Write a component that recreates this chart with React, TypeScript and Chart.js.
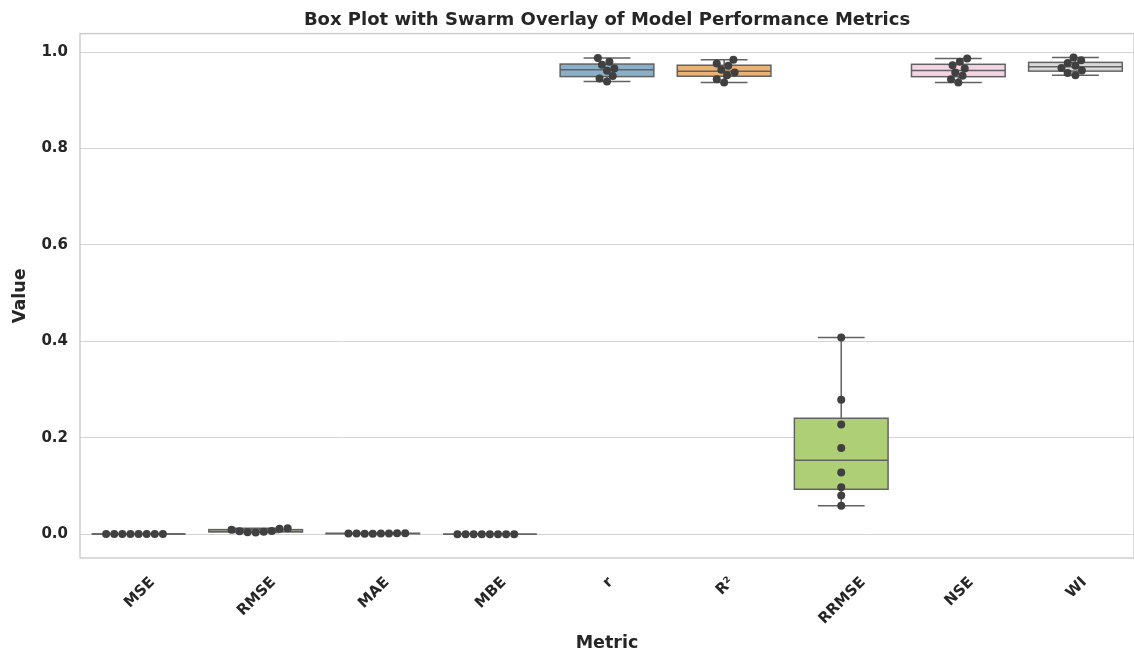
import React, { useEffect, useRef } from "react";
import { Chart, registerables } from "chart.js";

Chart.register(...registerables);

// ---------------- data ----------------
const categories = ["MSE", "RMSE", "MAE", "MBE", "r", "R²", "RRMSE", "NSE", "WI"];

const mseValues = [0.0001, 0.0001, 0.0001, 0.0001, 0.0001, 0.0001, 0.0001, 0.0001];
const rmseValues = [0.0089, 0.0062, 0.004, 0.0035, 0.0048, 0.0064, 0.011, 0.0124];
const maeValues = [0.00154, 0.00127, 0.00105, 0.001, 0.00113, 0.00129, 0.00175, 0.00189];
const mbeValues = [0.0, 0.0, 0.0, 0.0, 0.0, 0.0, 0.0, 0.0];
const rValues = [0.9392, 0.9454, 0.9505, 0.9612, 0.9662, 0.9737, 0.98, 0.9876];
const r2Values = [0.9371, 0.944, 0.952, 0.9579, 0.9633, 0.9716, 0.9765, 0.984];
const rrmseValues = [0.0588, 0.08, 0.0975, 0.128, 0.179, 0.2276, 0.279, 0.408];
const nseValues = [0.9371, 0.944, 0.9508, 0.9579, 0.9662, 0.973, 0.98, 0.9869];
const wiValues = [0.9523, 0.9565, 0.962, 0.967, 0.972, 0.9772, 0.9834, 0.989];

const seriesValues = [
  mseValues,
  rmseValues,
  maeValues,
  mbeValues,
  rValues,
  r2Values,
  rrmseValues,
  nseValues,
  wiValues,
];

const yTickValues = [0.0, 0.2, 0.4, 0.6, 0.8, 1.0];

// ---------------- styles ----------------
const boxColors = [
  "#98c9c1",
  "#f5f5c2",
  "#c3c0d6",
  "#ee8b80",
  "#8aafc9",
  "#eab375",
  "#afcf77",
  "#f6d3e5",
  "#d9d9d9",
];
const FONT = "'DejaVu Sans', 'Liberation Sans', sans-serif";
const TEXT = "#262626";
const LINE = "#626262";
const BOX_HALF = 0.4;
const CAP_HALF = 0.2;
const DOT_R = 4;
const SWARM_R = 3.86;

function quantile(sorted: number[], p: number) {
  const pos = (sorted.length - 1) * p;
  const lo = Math.floor(pos);
  const hi = Math.ceil(pos);
  return sorted[lo] + (sorted[hi] - sorted[lo]) * (pos - lo);
}

function boxStats(values: number[]) {
  const s = [...values].sort((a, b) => a - b);
  const q1 = quantile(s, 0.25);
  const med = quantile(s, 0.5);
  const q3 = quantile(s, 0.75);
  const iqr = q3 - q1;
  const lo = s.find((v) => v >= q1 - 1.5 * iqr) as number;
  const hi = [...s].reverse().find((v) => v <= q3 + 1.5 * iqr) as number;
  return { q1, med, q3, lo, hi };
}

// seaborn-like beeswarm (in pixel space, y pointing up)
function beeswarm(ys: number[], r: number): number[] {
  const order = ys.map((_, k) => k).sort((a, b) => ys[a] - ys[b]);
  const placed: { x: number; y: number }[] = [];
  const result = new Array(ys.length).fill(0);
  for (const k of order) {
    const y = ys[k];
    if (placed.length === 0) {
      placed.push({ x: 0, y });
      result[k] = 0;
      continue;
    }
    const neighbors: { x: number; y: number }[] = [];
    for (let j = placed.length - 1; j >= 0; j--) {
      if (y - placed[j].y < 2 * r) neighbors.push(placed[j]);
      else break;
    }
    neighbors.reverse();
    const cands: number[] = [0];
    let leftFirst = true;
    for (const n of neighbors) {
      const dy = y - n.y;
      const dx = Math.sqrt(Math.max(4 * r * r - dy * dy, 0)) * 1.05;
      const cl = n.x - dx;
      const cr = n.x + dx;
      if (leftFirst) cands.push(cl, cr);
      else cands.push(cr, cl);
      leftFirst = !leftFirst;
    }
    const sorted = cands
      .map((c, idx) => ({ c, idx }))
      .sort((a, b) => Math.abs(a.c) - Math.abs(b.c) || a.idx - b.idx)
      .map((o) => o.c);
    let chosen = sorted[0];
    for (const c of sorted) {
      const ok = neighbors.every(
        (n) => (n.x - c) * (n.x - c) + (n.y - y) * (n.y - y) >= 4 * r * r - 1e-9
      );
      if (ok) {
        chosen = c;
        break;
      }
    }
    placed.push({ x: chosen, y });
    result[k] = chosen;
  }
  return result;
}

const boxPlugin = {
  id: "boxSwarm",
  beforeDatasetsDraw(chart: any) {
    const { ctx, chartArea: ca, scales } = chart;
    const x = scales.x;
    const y = scales.y;
    ctx.save();
    // frame (spines)
    ctx.strokeStyle = "#cccccc";
    ctx.lineWidth = 1.4;
    ctx.strokeRect(ca.left, ca.top, ca.right - ca.left, ca.bottom - ca.top);

    const line = (x1: number, y1: number, x2: number, y2: number) => {
      ctx.beginPath();
      ctx.moveTo(x1, y1);
      ctx.lineTo(x2, y2);
      ctx.stroke();
    };

    seriesValues.forEach((vals, i) => {
      const st = boxStats(vals);
      const xl = x.getPixelForValue(i - BOX_HALF);
      const xr = x.getPixelForValue(i + BOX_HALF);
      const xc = x.getPixelForValue(i);
      const cl = x.getPixelForValue(i - CAP_HALF);
      const cr = x.getPixelForValue(i + CAP_HALF);
      const yq1 = y.getPixelForValue(st.q1);
      const yq3 = y.getPixelForValue(st.q3);
      const ymed = y.getPixelForValue(st.med);
      const ylo = y.getPixelForValue(st.lo);
      const yhi = y.getPixelForValue(st.hi);
      ctx.strokeStyle = LINE;
      ctx.lineWidth = 1.5;
      line(xc, yq3, xc, yhi);
      line(xc, yq1, xc, ylo);
      line(cl, yhi, cr, yhi);
      line(cl, ylo, cr, ylo);
      ctx.fillStyle = boxColors[i];
      ctx.fillRect(xl, yq3, xr - xl, yq1 - yq3);
      ctx.strokeRect(xl, yq3, xr - xl, yq1 - yq3);
      line(xl, ymed, xr, ymed);
    });
    ctx.restore();
  },
  afterDraw(chart: any) {
    const { ctx, chartArea: ca, scales } = chart;
    const x = scales.x;
    const fs = 15;
    ctx.save();
    ctx.font = `bold ${fs}px ${FONT}`;
    ctx.fillStyle = TEXT;
    ctx.textAlign = "center";
    ctx.textBaseline = "alphabetic";
    categories.forEach((label, i) => {
      const w = ctx.measureText(label).width;
      const capH = 0.73 * fs;
      const half = ((w + capH) * Math.SQRT1_2) / 2;
      const cx = x.getPixelForValue(i);
      const cy = ca.bottom + 17 + half;
      ctx.save();
      ctx.translate(cx, cy);
      ctx.rotate(-Math.PI / 4);
      ctx.fillText(label, 0, capH / 2);
      ctx.restore();
    });
    ctx.restore();
  },
};

export default function App() {
  const canvasRef = useRef<HTMLCanvasElement | null>(null);

  useEffect(() => {
    const canvas = canvasRef.current;
    if (!canvas) return;
    const allValues = seriesValues.flat();
    const dataMin = Math.min(...allValues);
    const dataMax = Math.max(...allValues);
    const pad = (dataMax - dataMin) * 0.05;

    const chart = new Chart(canvas, {
      type: "scatter",
      data: {
        datasets: seriesValues.map((vals, i) => ({
          label: categories[i],
          data: vals.map((v) => ({ x: i, y: v })),
          backgroundColor: "#404040",
          borderWidth: 0,
          pointRadius: DOT_R,
          pointHoverRadius: DOT_R,
        })),
      },
      options: {
        responsive: false,
        animation: false,
        events: [],
        layout: { padding: 0, autoPadding: false },
        plugins: {
          legend: { display: false },
          tooltip: { enabled: false },
          title: {
            display: true,
            fullSize: false,
            text: "Box Plot with Swarm Overlay of Model Performance Metrics",
            color: TEXT,
            font: { family: FONT, size: 18, weight: "bold", lineHeight: 1.2 },
            padding: { top: 10, bottom: 2 },
          },
        },
        scales: {
          x: {
            type: "linear",
            min: -0.5,
            max: 8.5,
            grid: { display: false },
            border: { display: false },
            ticks: { display: false },
            afterBuildTicks: (scale: any) => {
              scale.ticks = categories.map((_, i) => ({ value: i }));
            },
            afterFit: (scale: any) => {
              scale.height = 94;
            },
            title: {
              display: true,
              text: "Metric",
              color: TEXT,
              font: { family: FONT, size: 17.5, weight: "bold", lineHeight: 1 },
              padding: { top: 0, bottom: 0 },
            },
          },
          y: {
            type: "linear",
            min: dataMin - pad,
            max: dataMax + pad,
            afterBuildTicks: (scale: any) => {
              scale.ticks = yTickValues.map((v) => ({ value: v }));
            },
            afterFit: (scale: any) => {
              scale.width = 80;
            },
            grid: { color: "#d4d4d4", lineWidth: 1, drawTicks: false },
            border: { display: false },
            ticks: {
              color: TEXT,
              padding: 12,
              font: { family: FONT, size: 15, weight: "bold" },
              callback: (v: any) => Number(v).toFixed(1),
            },
            title: {
              display: true,
              text: "Value",
              color: TEXT,
              font: { family: FONT, size: 17.5, weight: "bold", lineHeight: 1.2 },
              padding: { top: 10, bottom: 0 },
            },
          },
        },
      },
      plugins: [boxPlugin],
    } as any);

    // swarm offsets computed in pixel space through the chart scales
    const xs: any = chart.scales.x;
    const ys: any = chart.scales.y;
    seriesValues.forEach((vals, i) => {
      const up = vals.map((v) => -ys.getPixelForValue(v));
      const offs = beeswarm(up, SWARM_R);
      const center = xs.getPixelForValue(i);
      (chart.data.datasets[i] as any).data = vals.map((v, k) => ({
        x: xs.getValueForPixel(center + offs[k]),
        y: v,
      }));
    });
    chart.update("none");

    return () => chart.destroy();
  }, []);

  return (
    <div style={{ position: "fixed", left: 0, top: 0, width: 1134, height: 652, background: "#ffffff" }}>
      <canvas ref={canvasRef} width={1134} height={652} />
    </div>
  );
}
